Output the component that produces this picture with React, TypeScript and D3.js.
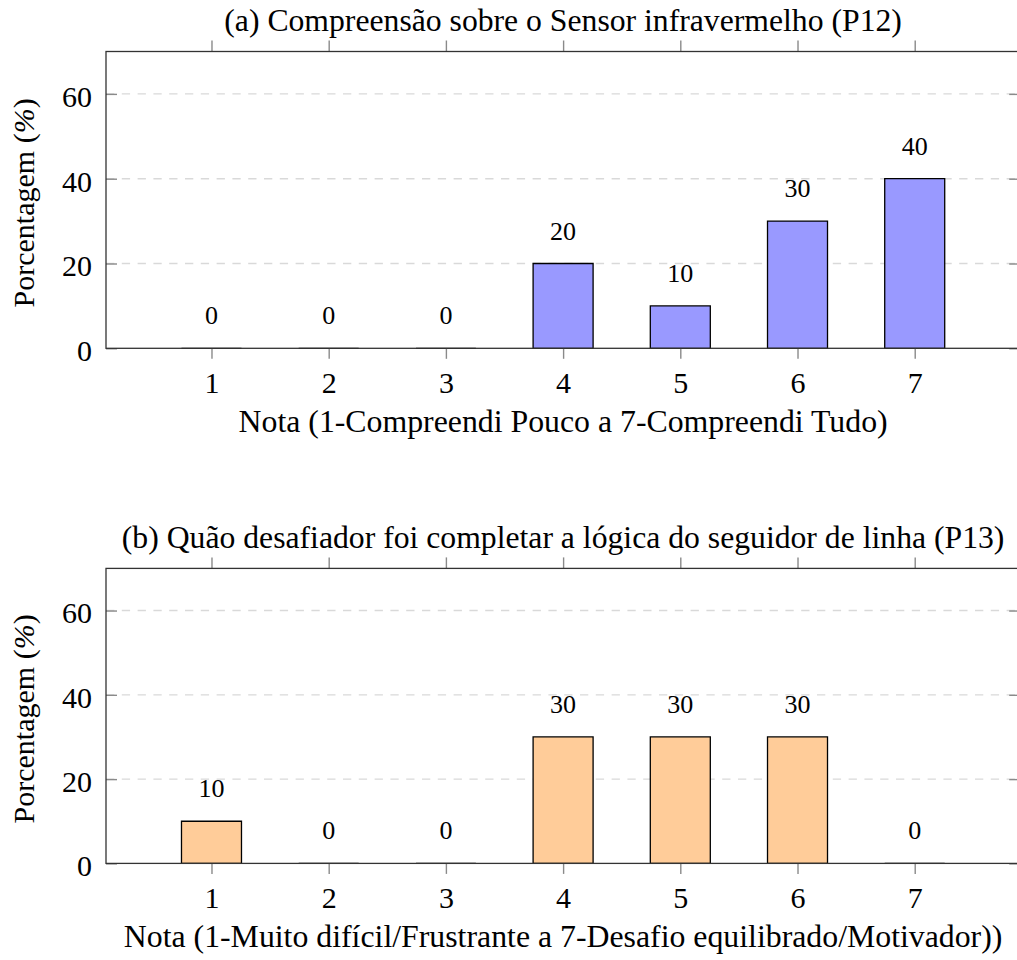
import React, { useEffect, useRef } from 'react';
import * as d3 from 'd3';

// Chart data
const categories = [1, 2, 3, 4, 5, 6, 7];
const sensorValues = [0, 0, 0, 20, 10, 30, 40];
const challengeValues = [10, 0, 0, 30, 30, 30, 0];
const yTickValues = [0, 20, 40, 60];

const titleA = '(a) Compreensão sobre o Sensor infravermelho (P12)';
const titleB = '(b) Quão desafiador foi completar a lógica do seguidor de linha (P13)';
const xLabelA = 'Nota (1-Compreendi Pouco a 7-Compreendi Tudo)';
const xLabelB = 'Nota (1-Muito difícil/Frustrante a 7-Desafio equilibrado/Motivador))';
const yLabel = 'Porcentagem (';

const FONT = "'Liberation Serif', 'Times New Roman', serif";

type Panel = {
  top: number;
  bottom: number;
  values: number[];
  fill: string;
  title: string;
  xLabel: string;
};

const App = () => {
  const svgRef = useRef<SVGSVGElement>(null);

  useEffect(() => {
    const svg = d3.select(svgRef.current);
    svg.selectAll('*').remove();

    const left = 106;
    const right = 1020.2;
    const barWidth = 60;

    const x = d3.scaleLinear().domain([0.1, 7.9]).range([left, right]);

    const drawPanel = (p: Panel) => {
      const y = d3.scaleLinear().domain([0, 70]).range([p.bottom, p.top]);
      const g = svg.append('g');

      // dashed grid lines
      g.selectAll('.grid')
        .data(yTickValues.filter(t => t > 0))
        .enter().append('line')
        .attr('x1', left)
        .attr('x2', right)
        .attr('y1', d => y(d))
        .attr('y2', d => y(d))
        .attr('stroke', '#d9d9d9')
        .attr('stroke-width', 1.4)
        .attr('stroke-dasharray', '8.3 7.5');

      // bars (paths so zero bars still show their outline)
      g.selectAll('.bar')
        .data(p.values)
        .enter().append('path')
        .attr('d', (d, i) => {
          const x0 = x(categories[i]) - barWidth / 2;
          const y0 = y(d);
          return `M${x0},${p.bottom}V${y0}H${x0 + barWidth}V${p.bottom}Z`;
        })
        .attr('fill', p.fill)
        .attr('stroke', '#000')
        .attr('stroke-width', 1.3);

      // value labels
      g.selectAll('.val')
        .data(p.values)
        .enter().append('text')
        .attr('x', (d, i) => x(categories[i]))
        .attr('y', d => y(d) - 24)
        .attr('text-anchor', 'middle')
        .style('font-family', FONT)
        .style('font-size', '26px')
        .style('fill', '#000')
        .text(d => d);

      // axes
      const tickColor = '#8a8a8a';
      const styleTicks = (sel: any) => {
        sel.select('.domain').remove();
        sel.selectAll('line').attr('stroke', tickColor).attr('stroke-width', 1.4);
        sel.selectAll('text')
          .style('font-family', FONT)
          .style('font-size', '30px')
          .style('fill', '#000');
      };

      g.append('g')
        .attr('transform', `translate(0,${p.bottom})`)
        .call(d3.axisBottom(x).tickValues(categories).tickSize(10.5).tickFormat(d3.format('d')))
        .call(styleTicks)
        .selectAll('text')
        .attr('y', 45)
        .attr('dy', null);

      g.append('g')
        .attr('transform', `translate(0,${p.top})`)
        .call(d3.axisTop(x).tickValues(categories).tickSize(11).tickFormat(() => ''))
        .call(styleTicks);

      g.append('g')
        .attr('transform', `translate(${left},0)`)
        .call(d3.axisLeft(y).tickValues(yTickValues).tickSize(-11).tickPadding(14))
        .call(styleTicks)
        .selectAll('text')
        .attr('dy', '0.41em');

      g.append('g')
        .attr('transform', `translate(${right},0)`)
        .call(d3.axisRight(y).tickValues(yTickValues).tickSize(-11).tickFormat(() => ''))
        .call(styleTicks);

      // frame
      g.append('rect')
        .attr('x', left)
        .attr('y', p.top)
        .attr('width', right - left)
        .attr('height', p.bottom - p.top)
        .attr('fill', 'none')
        .attr('stroke', '#333')
        .attr('stroke-width', 1.3);

      const cx = (left + right) / 2;

      // title
      g.append('text')
        .attr('x', cx)
        .attr('y', p.top - 20.5)
        .attr('text-anchor', 'middle')
        .style('font-family', FONT)
        .style('font-size', '31.7px')
        .style('fill', '#000')
        .text(p.title);

      // x label
      g.append('text')
        .attr('x', cx)
        .attr('y', p.bottom + 84)
        .attr('text-anchor', 'middle')
        .style('font-family', FONT)
        .style('font-size', '31.8px')
        .style('fill', '#000')
        .text(p.xLabel);

      // y label
      const yl = g.append('text')
        .attr('transform', `translate(34,${(p.top + p.bottom) / 2 + 3}) rotate(-90)`)
        .attr('text-anchor', 'middle')
        .style('font-family', FONT)
        .style('font-size', '30px')
        .style('fill', '#000');
      yl.append('tspan').text(yLabel);
      yl.append('tspan').style('font-style', 'italic').text('%');
      yl.append('tspan').text(')');
    };

    drawPanel({ top: 51.5, bottom: 348.3, values: sensorValues, fill: '#9999ff', title: titleA, xLabel: xLabelA });
    drawPanel({ top: 568.4, bottom: 863.4, values: challengeValues, fill: '#ffcc99', title: titleB, xLabel: xLabelB });
  }, []);

  return (
    <div style={{ position: 'absolute', left: 0, top: 0 }}>
      <svg ref={svgRef} width={1017} height={960} style={{ display: 'block', background: '#fff' }}></svg>
    </div>
  );
};

export default App;
